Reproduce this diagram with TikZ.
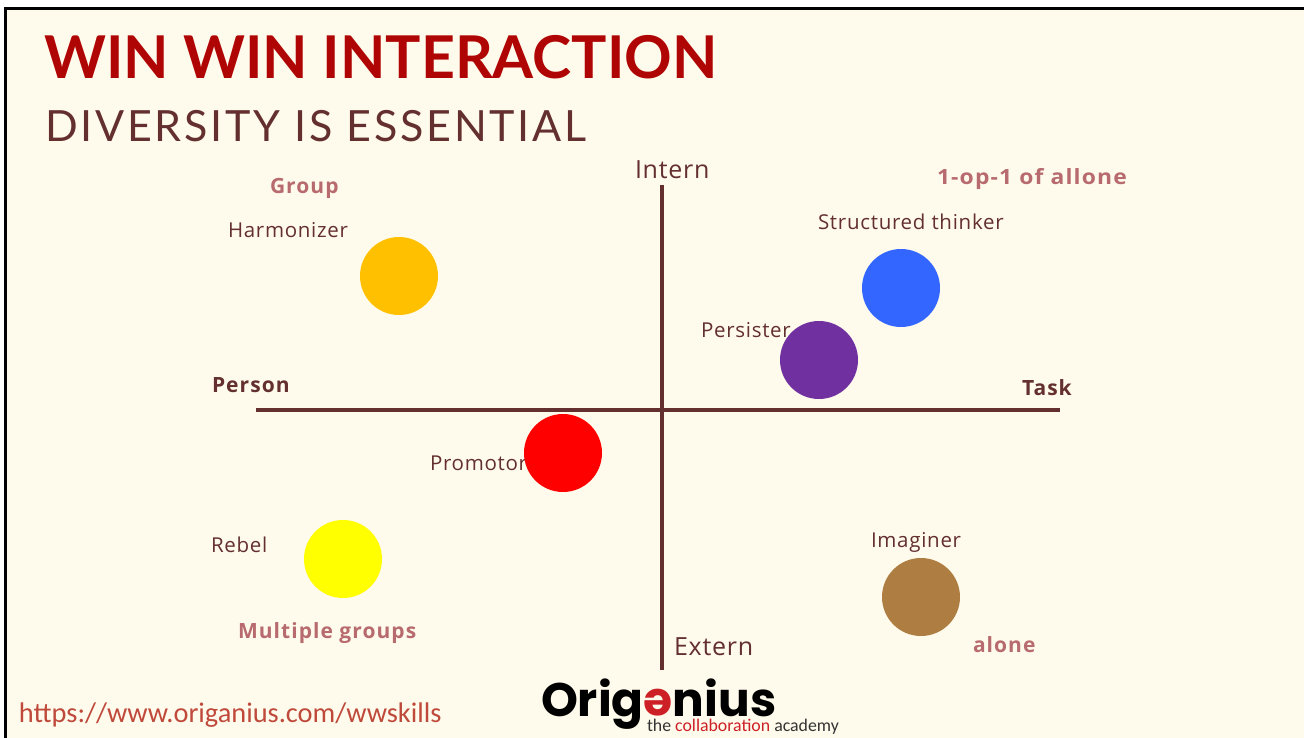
\documentclass[tikz,border=0pt]{standalone}
\usepackage{fontspec}
\setmainfont{Open Sans}
\newfontfamily\ttlf{Lato}
\newfontfamily\spaced[LetterSpace=6.5]{Lato}
\newfontfamily\roleF[LetterSpace=3.5]{Open Sans}
\newfontfamily\axisF[LetterSpace=3]{Open Sans}
\newfontfamily\boldF[LetterSpace=5,BoldFont={Open Sans Bold}]{Open Sans}
\newfontfamily\logo{Poppins}
\newfontfamily\urlf{Carlito}
\definecolor{bgc}{HTML}{FFFBEC}
\definecolor{brn}{HTML}{632F2F}
\definecolor{ttl}{HTML}{B00505}
\definecolor{pnk}{HTML}{B86B6F}
\definecolor{urlc}{HTML}{BF4A3C}
\definecolor{ryel}{RGB}{255,255,0}
\definecolor{rred}{RGB}{255,0,0}
\definecolor{rorg}{RGB}{255,192,0}
\definecolor{rblu}{RGB}{51,102,255}
\definecolor{rpur}{RGB}{112,48,160}
\definecolor{rbrn}{RGB}{173,125,66}
\definecolor{lred}{RGB}{205,32,38}
\tikzset{
  lab/.style={anchor=base west,inner sep=0pt,outer sep=0pt,text=brn,font=\fontsize{20}{24}\selectfont},
  role/.style={lab,font=\fontsize{20.5}{24}\selectfont\roleF},
  pk/.style={lab,text=pnk,font=\fontsize{21}{25}\selectfont\boldF\bfseries},
  axl/.style={lab,font=\fontsize{21}{25}\selectfont\boldF\bfseries},
  bigl/.style={lab,font=\fontsize{25}{30}\selectfont\axisF},
  dot/.style={circle,minimum size=78pt,inner sep=0pt,outer sep=0pt},
  axis/.style={draw=brn,line width=4pt}
}
\begin{document}
\begin{tikzpicture}[x=1pt,y=-1pt]
\useasboundingbox (0,0) rectangle (1304,738);
\fill[white] (0,0) rectangle (1304,738);
\fill[bgc] (6,9) rectangle (1304,738);
\draw[black,line width=3pt] (5.5,738) -- (5.5,9) -- (1304,9);
\node[lab,text=ttl,font=\fontsize{59}{70}\bfseries\selectfont\ttlf] (title) at (44,79) {WIN WIN INTERACTION};
\node[lab,font=\fontsize{43}{50}\selectfont\spaced] (sub) at (45,142) {DIVERSITY IS ESSENTIAL};
\coordinate (vt) at (662,185);\coordinate (vb) at (662,670);
\coordinate (hl) at (256,410);\coordinate (hr) at (1060,410);
\draw[axis] (vt) -- (vb);
\draw[axis] (hl) -- (hr);
\node[bigl] (intern) at (635,179) {Intern};
\node[bigl] (extern) at (674,655) {Extern};
\node[axl] (person) at (212,392) {Person};
\node[axl] (task) at (1022,395) {Task};
\node[pk] (group) at (270,194) {Group};
\node[pk] (oop) at (937,185) {\scalebox{1.09}[1]{1-op-1 of allone}};
\node[pk] (multi) at (238,638) {Multiple groups};
\node[pk] (alone) at (973,652) {alone};
\node[role] (harm) at (228,237) {Harmonizer};
\node[role] (struct) at (818,230) {Structured thinker};
\node[role] (pers) at (701,337) {Persister};
\node[role] (prom) at (430,470) {Promotor};
\node[role] (rebel) at (211,552) {Rebel};
\node[role] (imag) at (871,547) {Imaginer};
\node[dot,fill=rorg] (c1) at (399,276) {};
\node[dot,fill=rblu] (c2) at (901,288) {};
\node[dot,fill=rpur] (c3) at (819,360) {};
\node[dot,fill=rred] (c4) at (563,453) {};
\node[dot,fill=ryel] (c5) at (343,559) {};
\node[dot,fill=rbrn] (c6) at (921,597) {};
\node[lab,text=urlc,font=\fontsize{28.4}{34}\selectfont\urlf] (url) at (19,722) {https://www.origanius.com/wwskills};
\node[lab,text=black,font=\fontsize{47}{50}\selectfont\logo\bfseries] (logo) at (541,716) {Orig\textcolor{lred}{\rotatebox[origin=c]{180}{e}}nius};
\node[lab,text=black!80,font=\fontsize{17.8}{20}\selectfont\urlf] (tag) at (647,731) {the \textcolor{lred}{collaboration} academy};
\end{tikzpicture}
\end{document}
